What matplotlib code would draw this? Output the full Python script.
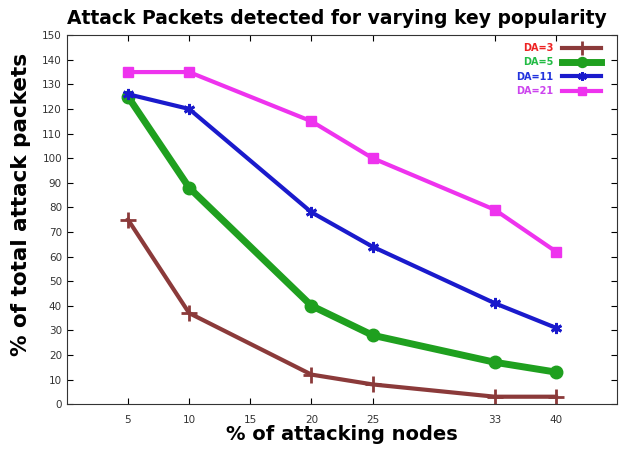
import matplotlib
matplotlib.use("Agg")
import matplotlib.pyplot as plt

# x positions (on the plot's axis) and their tick labels
x_ticks = [5, 10, 15, 20, 25, 35, 40]
x_tick_labels = ["5", "10", "15", "20", "25", "33", "40"]
x_data = [5, 10, 20, 25, 35, 40]

da3 = [75, 37, 12, 8, 3, 3]
da5 = [125, 88, 40, 28, 17, 13]
da11 = [126, 120, 78, 64, 41, 31]
da21 = [135, 135, 115, 100, 79, 62]

series_labels = ["DA=3", "DA=5", "DA=11", "DA=21"]
line_colors = ["#8b3a3a", "#1fa01f", "#1a1acc", "#ee33ee"]
text_colors = ["#ee2222", "#22bb44", "#2233dd", "#cc44ee"]

fig = plt.figure(figsize=(6.19, 4.51), dpi=100)
ax = fig.add_axes([0.108, 0.104, 0.889, 0.818])

styles = [
    dict(marker="+", markersize=12, mew=2, lw=3),
    dict(marker="o", markersize=9, lw=5),
    dict(marker=(6, 2, 0), markersize=8, mew=2, lw=3),
    dict(marker="s", markersize=7, lw=3),
]
for y, lab, c, st in zip([da3, da5, da11, da21], series_labels, line_colors, styles):
    ax.plot(x_data, y, color=c, label=lab, **st)

ax.set_xlim(0, 45)
ax.set_ylim(0, 150)
ax.set_xticks(x_ticks)
ax.set_xticklabels(x_tick_labels)
ax.set_yticks(range(0, 151, 10))
ax.tick_params(direction="in", length=4, labelsize=7.5, labelcolor="#333333",
               top=True, right=True, width=0.8)
ax.tick_params(axis="x", pad=8)
for s in ax.spines.values():
    s.set_linewidth(0.8)
    s.set_color("#333333")

ax.set_title("Attack Packets detected for varying key popularity",
             fontsize=13.5, fontweight="bold", pad=8, x=0.49)
ax.set_xlabel("% of attacking nodes", fontsize=14, fontweight="bold", labelpad=0)
ax.set_ylabel("% of total attack packets", fontsize=15.5, fontweight="bold")
ax.yaxis.set_label_coords(-0.066, 0.54)

leg = ax.legend(loc="upper right", bbox_to_anchor=(0.985, 1.0), frameon=False,
                markerfirst=False, fontsize=7, handlelength=4.0, labelspacing=0.45,
                borderpad=0.3, handletextpad=0.9, markerscale=0.8)
for t, c in zip(leg.get_texts(), text_colors):
    t.set_color(c)
    t.set_fontweight("bold")

fig.savefig("out.png", dpi=100)
